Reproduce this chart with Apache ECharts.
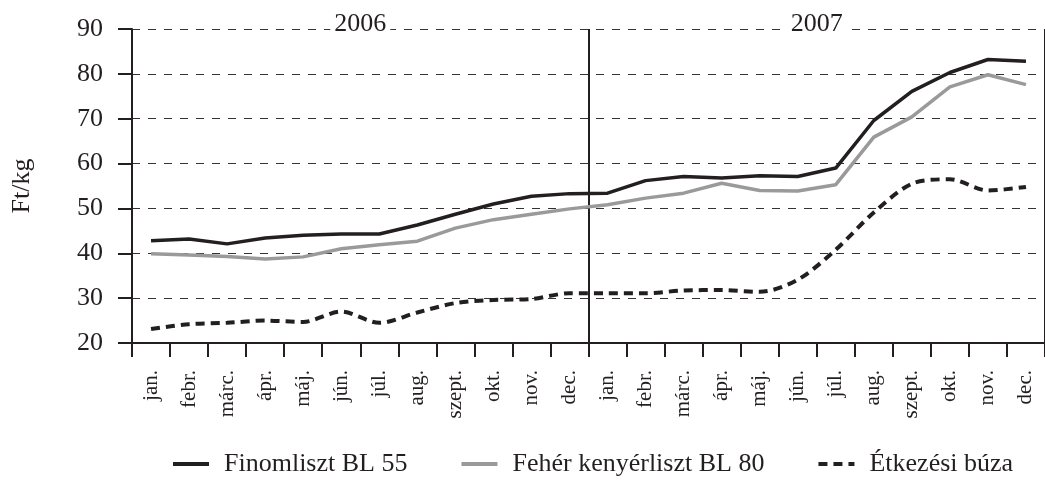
<!DOCTYPE html>
<html>
<head>
<meta charset="utf-8">
<script src="https://cdn.jsdelivr.net/npm/echarts@6/dist/echarts.min.js"></script>
<style>
  html, body { margin: 0; padding: 0; background: #fff; }
  #chart { width: 1045px; height: 484px; }
</style>
</head>
<body>
<div id="chart"></div>
<script>
// month labels, two years side by side
const months = ['jan.', 'febr.', 'márc.', 'ápr.', 'máj.', 'jún.', 'júl.', 'aug.', 'szept.', 'okt.', 'nov.', 'dec.'];
const categories = months.concat(months);
const years = ['2006', '2007'];

const finomliszt = [42.8, 43.2, 42.1, 43.4, 44.0, 44.3, 44.3, 46.3, 48.7, 51.0, 52.7, 53.3,
                    53.4, 56.2, 57.1, 56.8, 57.3, 57.1, 59.0, 69.6, 76.1, 80.3, 83.2, 82.8];
const kenyerliszt = [39.9, 39.6, 39.3, 38.7, 39.2, 41.0, 41.9, 42.7, 45.6, 47.5, 48.7, 49.9,
                     50.8, 52.3, 53.4, 55.6, 54.0, 53.9, 55.3, 65.9, 70.4, 77.1, 79.8, 77.6];
const buza = [23.1, 24.2, 24.5, 25.0, 24.7, 27.0, 24.5, 26.8, 28.9, 29.6, 29.8, 31.1,
              31.1, 31.1, 31.7, 31.8, 31.4, 34.1, 40.8, 49.1, 55.5, 56.5, 54.0, 54.8];

const seriesNames = ['Finomliszt BL 55', 'Fehér kenyérliszt BL 80', 'Étkezési búza'];

const FONT = '"Liberation Serif", "Times New Roman", serif';
const BLACK = '#231f20';
const GRAY = '#9a9a9a';

const chart = echarts.init(document.getElementById('chart'));

const option = {
    animation: false,
    grid: { left: 132, top: 29, width: 917, height: 314, containLabel: false },
    legend: {
        left: 166,
        top: 446,
        itemWidth: 36,
        itemHeight: 14,
        itemGap: 52,
        itemStyle: { opacity: 0 },
        lineStyle: { width: 4 },
        textStyle: { fontFamily: FONT, fontSize: 26, color: BLACK, padding: [0, 0, 0, 10] },
        data: seriesNames
    },
    xAxis: [
        {
            type: 'category',
            data: categories,
            boundaryGap: true,
            axisLine: { lineStyle: { color: BLACK, width: 2 } },
            axisTick: { show: true, length: 14, lineStyle: { color: BLACK, width: 2 } },
            axisLabel: {
                interval: 0, rotate: 90, margin: 27,
                fontFamily: FONT, fontSize: 21, color: BLACK
            },
            splitLine: { show: false }
        },
        {
            type: 'category',
            data: years,
            position: 'top',
            z: 10,
            axisLine: { show: false },
            axisTick: { show: false },
            axisLabel: {
                margin: -8,
                fontFamily: FONT, fontSize: 26, color: BLACK,
                backgroundColor: '#fff', padding: [0, 4]
            }
        },
        {
            // month-index scale, used only for the year separator line
            type: 'value',
            min: 0, max: 24, interval: 12,
            show: true,
            position: 'bottom',
            axisLine: { show: false },
            axisTick: { show: false },
            axisLabel: { show: false },
            splitLine: { show: true, lineStyle: { color: BLACK, width: 2, type: 'solid' } }
        }
    ],
    yAxis: {
        type: 'value',
        min: 20, max: 90, interval: 10,
        name: 'Ft/kg',
        nameLocation: 'middle',
        nameGap: 97,
        nameRotate: 90,
        nameTextStyle: { fontFamily: FONT, fontSize: 26, color: BLACK },
        axisLine: { show: true, lineStyle: { color: BLACK, width: 2 } },
        axisTick: { show: true, length: 14, lineStyle: { color: BLACK, width: 2 } },
        axisLabel: { margin: 29, fontFamily: FONT, fontSize: 26, color: BLACK },
        splitLine: { lineStyle: { color: '#333', width: 1, type: [8, 8] } }
    },
    series: [
        {
            name: seriesNames[0], type: 'line', data: finomliszt,
            symbol: 'none', z: 5,
            lineStyle: { color: BLACK, width: 3.5 }, itemStyle: { color: BLACK }
        },
        {
            name: seriesNames[1], type: 'line', data: kenyerliszt,
            symbol: 'none', z: 4,
            lineStyle: { color: GRAY, width: 3.5 }, itemStyle: { color: GRAY }
        },
        {
            name: seriesNames[2], type: 'line', data: buza,
            symbol: 'none', smooth: 0.3, z: 3,
            lineStyle: { color: BLACK, width: 4, type: [9, 6] }, itemStyle: { color: BLACK }
        }
    ]
};

chart.setOption(option);
</script>
</body>
</html>
